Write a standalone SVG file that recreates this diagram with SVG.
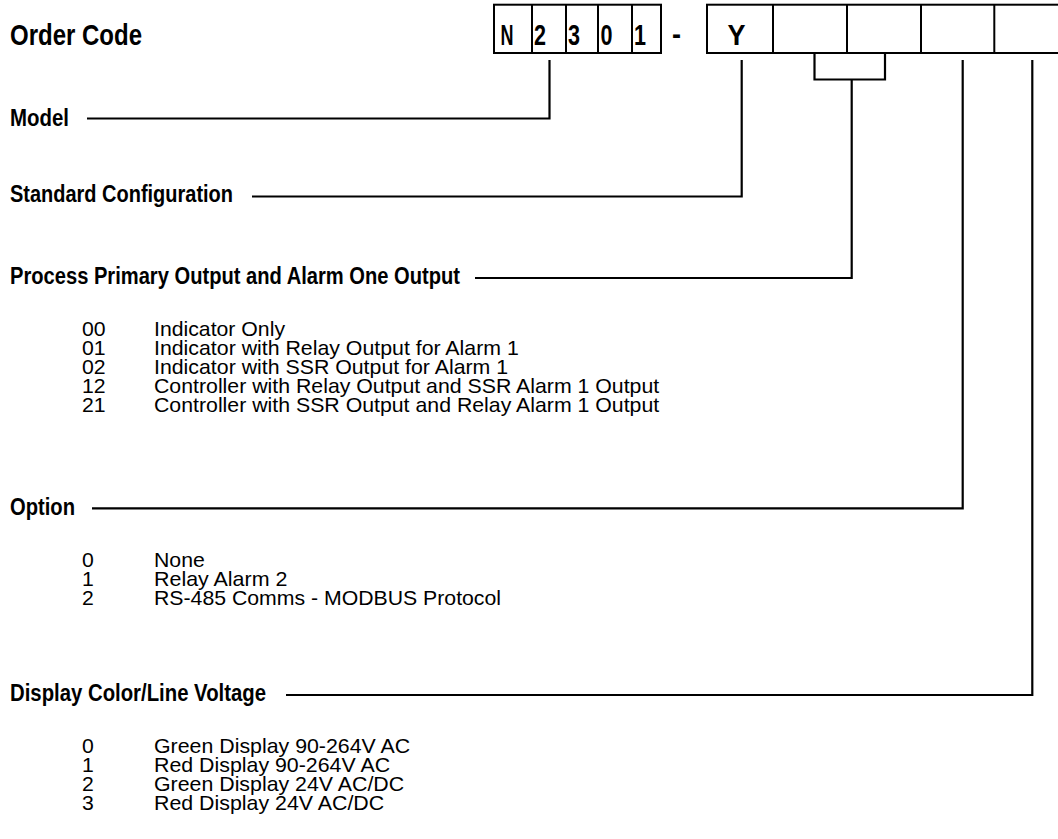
<svg xmlns="http://www.w3.org/2000/svg" width="1058" height="839" viewBox="0 0 1058 839">
<style>
.h{font-family:"Liberation Sans",Arial,sans-serif;font-weight:bold;font-size:23px;fill:#000}
.big{font-family:"Liberation Sans",Arial,sans-serif;font-weight:bold;font-size:30px;fill:#000}
.t{font-family:"Liberation Sans",Arial,sans-serif;font-size:21px;fill:#000}
.box{fill:none;stroke:#000;stroke-width:2}
.c{fill:none;stroke:#000;stroke-width:2.2}
</style>
<rect width="1058" height="839" fill="#fff"/>
<g id="title">
<text class="big" x="10" y="45" textLength="132" lengthAdjust="spacingAndGlyphs">Order Code</text>
</g>
<g id="code-box-1">
<rect class="box" x="494" y="4.7" width="167" height="48.3"/>
<line class="box" x1="532" y1="4.7" x2="532" y2="53"/>
<line class="box" x1="566" y1="4.7" x2="566" y2="53"/>
<line class="box" x1="598" y1="4.7" x2="598" y2="53"/>
<line class="box" x1="632" y1="4.7" x2="632" y2="53"/>
<text class="big" x="500.5" y="45" textLength="13" lengthAdjust="spacingAndGlyphs">N</text>
<text class="big" x="534" y="45" textLength="12" lengthAdjust="spacingAndGlyphs">2</text>
<text class="big" x="568" y="45" textLength="12" lengthAdjust="spacingAndGlyphs">3</text>
<text class="big" x="600.5" y="45" textLength="12" lengthAdjust="spacingAndGlyphs">0</text>
<text class="big" x="634" y="45" textLength="12" lengthAdjust="spacingAndGlyphs">1</text>
</g>
<g id="dash">
<text class="big" x="672" y="44" textLength="9" lengthAdjust="spacingAndGlyphs">-</text>
</g>
<g id="code-box-2">
<rect class="box" x="707" y="4.7" width="361" height="48.3"/>
<line class="box" x1="773" y1="4.7" x2="773" y2="53"/>
<line class="box" x1="847" y1="4.7" x2="847" y2="53"/>
<line class="box" x1="921" y1="4.7" x2="921" y2="53"/>
<line class="box" x1="994.3" y1="4.7" x2="994.3" y2="53"/>
<text class="big" x="727.5" y="45" textLength="18" lengthAdjust="spacingAndGlyphs">Y</text>
</g>
<g id="connectors">
<path class="c" d="M87,118.5 H549.5 V60"/>
<path class="c" d="M252,196.5 H741.7 V60"/>
<path class="c" d="M814.5,53 V79.5 H885 V53"/>
<path class="c" d="M475,278 H851.7 V79.5"/>
<path class="c" d="M92,508.3 H962.7 V60"/>
<path class="c" d="M286,695 H1032.3 V60"/>
</g>
<g id="model">
<text class="h" x="10" y="126" textLength="59" lengthAdjust="spacingAndGlyphs">Model</text>
</g>
<g id="standard-configuration">
<text class="h" x="10" y="201.5" textLength="223" lengthAdjust="spacingAndGlyphs">Standard Configuration</text>
</g>
<g id="process-output">
<text class="h" x="10" y="284.3" textLength="450" lengthAdjust="spacingAndGlyphs">Process Primary Output and Alarm One Output</text>
<text class="t" x="82" y="336" textLength="23.6" lengthAdjust="spacingAndGlyphs">00</text>
<text class="t" x="154" y="336" textLength="131" lengthAdjust="spacingAndGlyphs">Indicator Only</text>
<text class="t" x="82" y="355" textLength="23.6" lengthAdjust="spacingAndGlyphs">01</text>
<text class="t" x="154" y="355" textLength="364.8" lengthAdjust="spacingAndGlyphs">Indicator with Relay Output for Alarm 1</text>
<text class="t" x="82" y="374" textLength="23.6" lengthAdjust="spacingAndGlyphs">02</text>
<text class="t" x="154" y="374" textLength="354.1" lengthAdjust="spacingAndGlyphs">Indicator with SSR Output for Alarm 1</text>
<text class="t" x="82" y="393" textLength="23.6" lengthAdjust="spacingAndGlyphs">12</text>
<text class="t" x="154" y="393" textLength="505.2" lengthAdjust="spacingAndGlyphs">Controller with Relay Output and SSR Alarm 1 Output</text>
<text class="t" x="82" y="412" textLength="23.6" lengthAdjust="spacingAndGlyphs">21</text>
<text class="t" x="154" y="412" textLength="505.2" lengthAdjust="spacingAndGlyphs">Controller with SSR Output and Relay Alarm 1 Output</text>
</g>
<g id="option">
<text class="h" x="10" y="514.5" textLength="65" lengthAdjust="spacingAndGlyphs">Option</text>
<text class="t" x="82" y="566.5" textLength="11.8" lengthAdjust="spacingAndGlyphs">0</text>
<text class="t" x="154" y="566.5" textLength="50.8" lengthAdjust="spacingAndGlyphs">None</text>
<text class="t" x="82" y="585.5" textLength="11.8" lengthAdjust="spacingAndGlyphs">1</text>
<text class="t" x="154" y="585.5" textLength="133.4" lengthAdjust="spacingAndGlyphs">Relay Alarm 2</text>
<text class="t" x="82" y="604.5" textLength="11.8" lengthAdjust="spacingAndGlyphs">2</text>
<text class="t" x="154" y="604.5" textLength="347" lengthAdjust="spacingAndGlyphs">RS-485 Comms - MODBUS Protocol</text>
</g>
<g id="display-voltage">
<text class="h" x="10" y="701" textLength="256" lengthAdjust="spacingAndGlyphs">Display Color/Line Voltage</text>
<text class="t" x="82" y="753" textLength="11.8" lengthAdjust="spacingAndGlyphs">0</text>
<text class="t" x="154" y="753" textLength="256.2" lengthAdjust="spacingAndGlyphs">Green Display 90-264V AC</text>
<text class="t" x="82" y="772" textLength="11.8" lengthAdjust="spacingAndGlyphs">1</text>
<text class="t" x="154" y="772" textLength="236.1" lengthAdjust="spacingAndGlyphs">Red Display 90-264V AC</text>
<text class="t" x="82" y="791" textLength="11.8" lengthAdjust="spacingAndGlyphs">2</text>
<text class="t" x="154" y="791" textLength="250.2" lengthAdjust="spacingAndGlyphs">Green Display 24V AC/DC</text>
<text class="t" x="82" y="810" textLength="11.8" lengthAdjust="spacingAndGlyphs">3</text>
<text class="t" x="154" y="810" textLength="230.2" lengthAdjust="spacingAndGlyphs">Red Display 24V AC/DC</text>
</g>
</svg>
